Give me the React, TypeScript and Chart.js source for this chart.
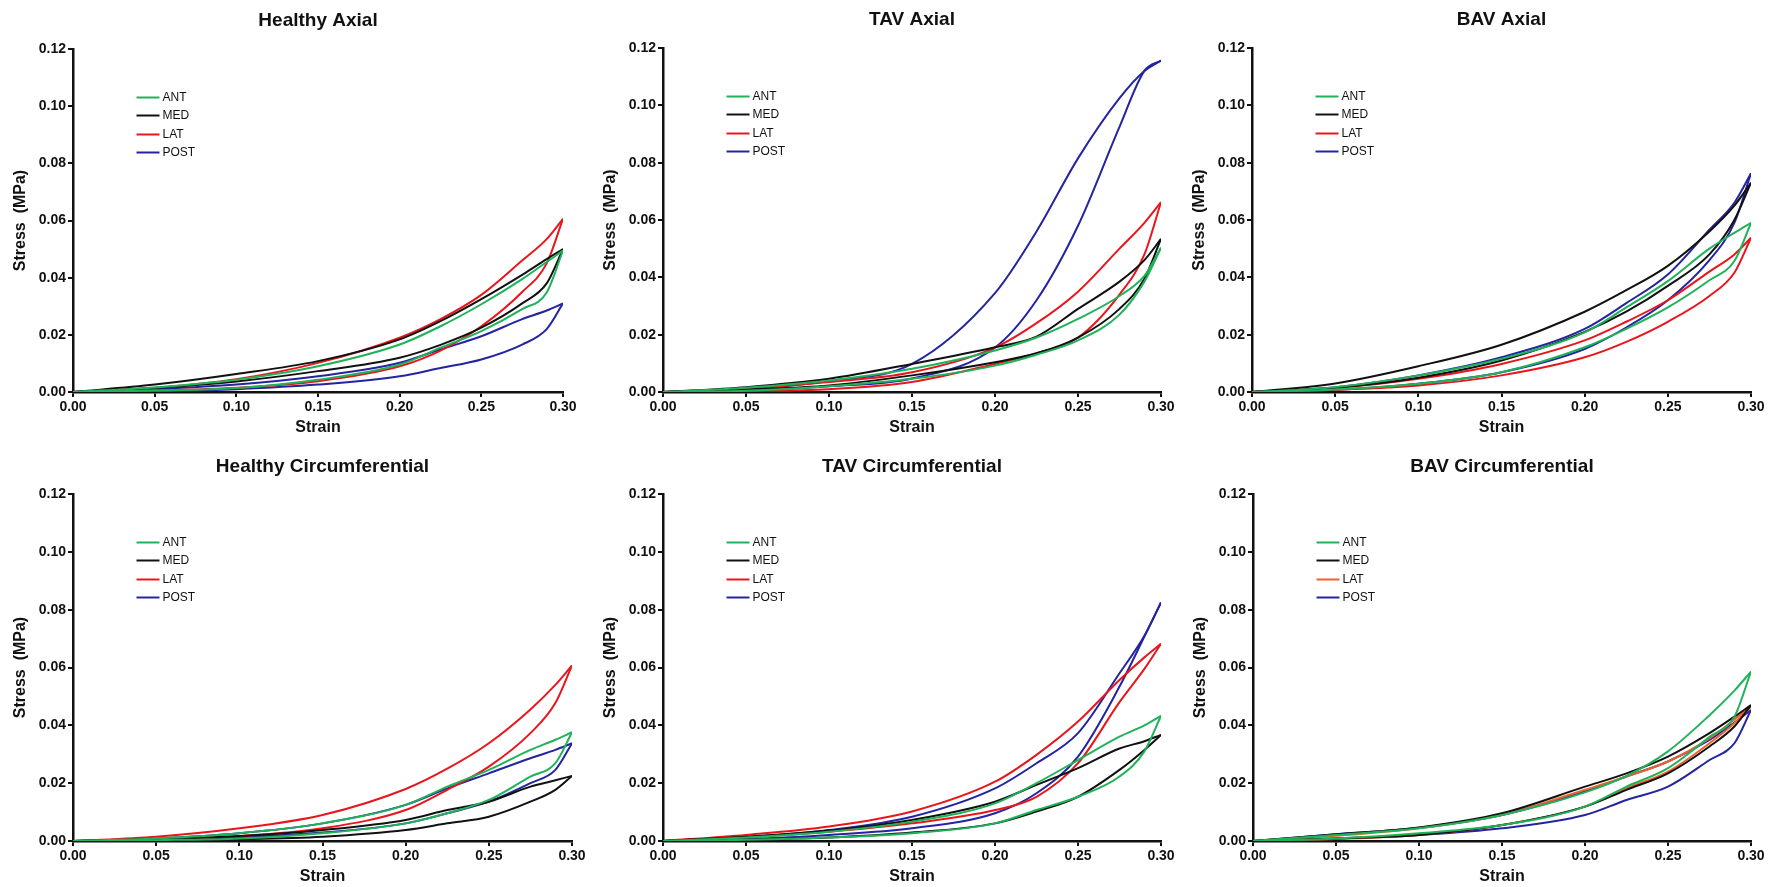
import React, { useEffect, useRef } from "react";
import { Chart, registerables } from "chart.js";

Chart.register(...registerables);
Chart.defaults.font.family = '"Liberation Sans", Arial, Helvetica, sans-serif';

// ---------- data ----------
const STRAIN = [0, 0.05, 0.1, 0.15, 0.2, 0.225, 0.25, 0.275, 0.29, 0.3];
const X_TICK_VALUES = [0, 0.05, 0.1, 0.15, 0.2, 0.25, 0.3];
const Y_TICK_VALUES = [0, 0.02, 0.04, 0.06, 0.08, 0.1, 0.12];
const REGIONS = ["ANT", "MED", "LAT", "POST"];
const TITLES = [
  "Healthy Axial",
  "TAV Axial",
  "BAV Axial",
  "Healthy Circumferential",
  "TAV Circumferential",
  "BAV Circumferential",
];

// Healthy Axial
const haAntLoad = [0, 0.0016, 0.0043, 0.009, 0.0166, 0.023, 0.0307, 0.0395, 0.0455, 0.0495];
const haAntUnload = [0, 0.0005, 0.0014, 0.0043, 0.0096, 0.0155, 0.0213, 0.029, 0.0348, 0.0495];
const haMedLoad = [0, 0.0026, 0.0063, 0.0108, 0.0184, 0.0248, 0.0325, 0.041, 0.0465, 0.05];
const haMedUnload = [0, 0.0014, 0.0037, 0.0073, 0.012, 0.0165, 0.0225, 0.031, 0.038, 0.05];
const haLatLoad = [0, 0.0015, 0.0045, 0.0102, 0.019, 0.0255, 0.034, 0.046, 0.0535, 0.0606];
const haLatUnload = [0, 0.0005, 0.0015, 0.0038, 0.009, 0.0145, 0.023, 0.035, 0.045, 0.0606];
const haPostLoad = [0, 0.001, 0.0026, 0.0055, 0.0102, 0.0149, 0.0195, 0.0255, 0.0285, 0.031];
const haPostUnload = [0, 0.0002, 0.001, 0.0026, 0.0055, 0.0084, 0.0114, 0.0166, 0.022, 0.031];

// TAV Axial
const taAntLoad = [0, 0.0015, 0.004, 0.0081, 0.0145, 0.019, 0.0255, 0.0335, 0.0405, 0.0503];
const taAntUnload = [0, 0.0004, 0.002, 0.0046, 0.0092, 0.013, 0.018, 0.027, 0.0385, 0.0503];
const taMedLoad = [0, 0.0017, 0.0046, 0.0098, 0.0156, 0.0193, 0.029, 0.0385, 0.046, 0.0534];
const taMedUnload = [0, 0.0009, 0.0023, 0.0058, 0.0104, 0.0135, 0.019, 0.029, 0.0395, 0.0534];
const taLatLoad = [0, 0.0012, 0.0035, 0.0069, 0.0155, 0.024, 0.035, 0.05, 0.059, 0.0662];
const taLatUnload = [0, 0.0003, 0.001, 0.0035, 0.0098, 0.0135, 0.019, 0.034, 0.048, 0.0662];
const taPostLoad = [0, 0.001, 0.0038, 0.0098, 0.0345, 0.056, 0.0815, 0.1025, 0.112, 0.1156];
const taPostUnload = [0, 0.0005, 0.002, 0.0047, 0.0155, 0.032, 0.058, 0.0925, 0.112, 0.1156];

// BAV Axial
const baAntLoad = [0, 0.0017, 0.0058, 0.0116, 0.0208, 0.0295, 0.0387, 0.05, 0.0555, 0.059];
const baAntUnload = [0, 0.0009, 0.0029, 0.0069, 0.0156, 0.022, 0.0295, 0.039, 0.0457, 0.059];
const baMedLoad = [0, 0.003, 0.009, 0.0165, 0.028, 0.0355, 0.044, 0.056, 0.065, 0.073];
const baMedUnload = [0, 0.0015, 0.005, 0.011, 0.021, 0.028, 0.037, 0.048, 0.06, 0.073];
const baLatLoad = [0, 0.0014, 0.0046, 0.0098, 0.018, 0.0245, 0.032, 0.042, 0.048, 0.0538];
const baLatUnload = [0, 0.0008, 0.0023, 0.0058, 0.0121, 0.0175, 0.0245, 0.0335, 0.0416, 0.0538];
const baPostLoad = [0, 0.0017, 0.0058, 0.0121, 0.022, 0.031, 0.041, 0.0566, 0.066, 0.0763];
const baPostUnload = [0, 0.0008, 0.0029, 0.0069, 0.015, 0.0225, 0.032, 0.046, 0.059, 0.0763];

// Healthy Circumferential
const hcAntLoad = [0, 0.0009, 0.0027, 0.0061, 0.0125, 0.0188, 0.0246, 0.0315, 0.035, 0.0376];
const hcAntUnload = [0, 0.0003, 0.0009, 0.0027, 0.0061, 0.0096, 0.0142, 0.0223, 0.0269, 0.0376];
const hcMedLoad = [0, 0.0006, 0.0017, 0.0038, 0.0073, 0.0107, 0.0136, 0.0188, 0.021, 0.0225];
const hcMedUnload = [0, 0.0002, 0.0006, 0.0015, 0.0038, 0.0061, 0.0084, 0.0136, 0.0177, 0.0225];
const hcLatLoad = [0, 0.0015, 0.0044, 0.009, 0.018, 0.025, 0.0338, 0.0455, 0.054, 0.0607];
const hcLatUnload = [0, 0.0006, 0.0017, 0.0044, 0.0107, 0.0177, 0.0257, 0.0373, 0.0477, 0.0607];
const hcPostLoad = [0, 0.0009, 0.0027, 0.0061, 0.0125, 0.0182, 0.0234, 0.0286, 0.0315, 0.0338];
const hcPostUnload = [0, 0.0004, 0.0013, 0.0029, 0.0061, 0.0096, 0.0136, 0.02, 0.0246, 0.0338];

// TAV Circumferential
const tcAntLoad = [0, 0.0012, 0.0032, 0.0067, 0.013, 0.02, 0.028, 0.0361, 0.04, 0.0433];
const tcAntUnload = [0, 0.0004, 0.0012, 0.0027, 0.0061, 0.0107, 0.0153, 0.0223, 0.031, 0.0433];
const tcMedLoad = [0, 0.0015, 0.0036, 0.0073, 0.0136, 0.0194, 0.0252, 0.032, 0.0345, 0.0367];
const tcMedUnload = [0, 0.0005, 0.0012, 0.0029, 0.0061, 0.0102, 0.0153, 0.0246, 0.0315, 0.0367];
const tcLatLoad = [0, 0.0021, 0.005, 0.0102, 0.0205, 0.0298, 0.0413, 0.0557, 0.0635, 0.0682];
const tcLatUnload = [0, 0.0013, 0.0032, 0.0061, 0.0107, 0.0153, 0.0269, 0.048, 0.0595, 0.0682];
const tcPostLoad = [0, 0.0013, 0.0038, 0.0084, 0.0182, 0.0269, 0.0373, 0.058, 0.071, 0.0825];
const tcPostUnload = [0, 0.0007, 0.0021, 0.0044, 0.0096, 0.0165, 0.0292, 0.0534, 0.0707, 0.0825];

// BAV Circumferential
const bcAntLoad = [0, 0.0021, 0.0044, 0.009, 0.0168, 0.0225, 0.031, 0.0435, 0.052, 0.0586];
const bcAntUnload = [0, 0.0009, 0.0027, 0.0055, 0.0119, 0.0188, 0.0252, 0.036, 0.043, 0.0586];
const bcMedLoad = [0, 0.0023, 0.0047, 0.0096, 0.0188, 0.0234, 0.0292, 0.0373, 0.043, 0.047];
const bcMedUnload = [0, 0.0009, 0.0021, 0.0055, 0.0119, 0.0177, 0.0234, 0.0327, 0.0396, 0.047];
const bcLatLoad = [0, 0.0018, 0.0044, 0.009, 0.0177, 0.0223, 0.0275, 0.0355, 0.042, 0.0465];
const bcLatUnload = [0, 0.0007, 0.0021, 0.0055, 0.0119, 0.0182, 0.024, 0.0338, 0.0407, 0.0465];
const bcPostLoad = [0, 0.0023, 0.0046, 0.009, 0.0171, 0.0223, 0.0275, 0.035, 0.041, 0.0453];
const bcPostUnload = [0, 0.0009, 0.0021, 0.0044, 0.009, 0.0142, 0.0188, 0.028, 0.0338, 0.0453];

// ---------- styling ----------
const GREEN = "#1fb25a";
const BLACK = "#111111";
const RED = "#e8161c";
const ORANGE = "#f0602a";
const BLUE = "#2424a0";

type Series = { label: string; color: string; load: number[]; unload: number[] };
type Area = { l: number; t: number; r: number; b: number };
type PanelSpec = { title: string; series: Series[]; area: Area; titlePad: { top: number; bottom: number } };

const mk = (colors: string[], data: number[][][]): Series[] =>
  REGIONS.map((label, i) => ({ label, color: colors[i], load: data[i][0], unload: data[i][1] }));

const STD = [GREEN, BLACK, RED, BLUE];
const BAVC = [GREEN, BLACK, ORANGE, BLUE];

const TOP_PAD = { top: 8, bottom: 17.2 };
const BOT_PAD = { top: 9.3, bottom: 15.9 };

const PANELS: PanelSpec[] = [
  {
    title: TITLES[0],
    series: mk(STD, [[haAntLoad, haAntUnload], [haMedLoad, haMedUnload], [haLatLoad, haLatUnload], [haPostLoad, haPostUnload]]),
    area: { l: 73, t: 49, r: 563, b: 392 },
    titlePad: TOP_PAD,
  },
  {
    title: TITLES[1],
    series: mk(STD, [[taAntLoad, taAntUnload], [taMedLoad, taMedUnload], [taLatLoad, taLatUnload], [taPostLoad, taPostUnload]]),
    area: { l: 663, t: 48, r: 1161, b: 392 },
    titlePad: TOP_PAD,
  },
  {
    title: TITLES[2],
    series: mk(STD, [[baAntLoad, baAntUnload], [baMedLoad, baMedUnload], [baLatLoad, baLatUnload], [baPostLoad, baPostUnload]]),
    area: { l: 1252, t: 48, r: 1751, b: 392 },
    titlePad: TOP_PAD,
  },
  {
    title: TITLES[3],
    series: mk(STD, [[hcAntLoad, hcAntUnload], [hcMedLoad, hcMedUnload], [hcLatLoad, hcLatUnload], [hcPostLoad, hcPostUnload]]),
    area: { l: 73, t: 494, r: 572, b: 841 },
    titlePad: BOT_PAD,
  },
  {
    title: TITLES[4],
    series: mk(STD, [[tcAntLoad, tcAntUnload], [tcMedLoad, tcMedUnload], [tcLatLoad, tcLatUnload], [tcPostLoad, tcPostUnload]]),
    area: { l: 663, t: 494, r: 1161, b: 841 },
    titlePad: BOT_PAD,
  },
  {
    title: TITLES[5],
    series: mk(BAVC, [[bcAntLoad, bcAntUnload], [bcMedLoad, bcMedUnload], [bcLatLoad, bcLatUnload], [bcPostLoad, bcPostUnload]]),
    area: { l: 1253, t: 494, r: 1751, b: 841 },
    titlePad: BOT_PAD,
  },
];

const Y_AXIS_W = 70;
const X_AXIS_H = 48;
const RIGHT_PAD = 25;

const legendPlugin = {
  id: "panelLegend",
  afterDatasetsDraw(chart: any) {
    const { ctx, chartArea } = chart;
    const items = chart.data.datasets.filter((d: any) => d.isLegend);
    ctx.save();
    items.forEach((d: any, i: number) => {
      const y = Math.round(chartArea.top + 47.7 + i * 18.5) + 0.5;
      const x0 = chartArea.left + 63.5;
      ctx.strokeStyle = d.borderColor;
      ctx.lineWidth = 2;
      ctx.beginPath();
      ctx.moveTo(x0, y);
      ctx.lineTo(x0 + 23, y);
      ctx.stroke();
      ctx.fillStyle = "#111";
      ctx.font = '12px "Liberation Sans", Arial, sans-serif';
      ctx.textBaseline = "middle";
      ctx.textAlign = "left";
      ctx.fillText(d.label, x0 + 26, y + 0.5);
    });
    ctx.restore();
  },
};

function Panel({ spec }: { spec: PanelSpec }) {
  const ref = useRef<HTMLCanvasElement>(null);
  const { area } = spec;
  const W = Y_AXIS_W + (area.r - area.l) + RIGHT_PAD;
  const H = X_AXIS_H + (area.b - area.t) + X_AXIS_H;

  useEffect(() => {
    const canvas = ref.current;
    if (!canvas) return;
    const datasets: any[] = [];
    spec.series.forEach((s) => {
      datasets.push({
        label: s.label,
        isLegend: true,
        data: STRAIN.map((x, i) => ({ x, y: s.load[i] })),
        borderColor: s.color,
        backgroundColor: s.color,
        borderWidth: 2,
        pointRadius: 0,
        showLine: true,
        fill: false,
        cubicInterpolationMode: "monotone",
      });
      datasets.push({
        label: s.label + " unloading",
        isLegend: false,
        data: STRAIN.map((x, i) => ({ x, y: s.unload[i] })),
        borderColor: s.color,
        backgroundColor: s.color,
        borderWidth: 2,
        pointRadius: 0,
        showLine: true,
        fill: false,
        cubicInterpolationMode: "monotone",
      });
    });

    const tickFont = { size: 14, weight: "bold" as const };
    const chart = new Chart(canvas, {
      type: "scatter",
      data: { datasets },
      plugins: [legendPlugin],
      options: {
        animation: false,
        responsive: false,
        devicePixelRatio: 1,
        events: [],
        layout: { padding: { left: 0, right: RIGHT_PAD, top: 0, bottom: 0 } },
        plugins: {
          legend: { display: false },
          tooltip: { enabled: false },
          title: {
            display: true,
            text: spec.title,
            fullSize: false,
            color: "#111",
            font: { size: 19, weight: "bold", lineHeight: 1.2 },
            padding: spec.titlePad,
          },
        },
        scales: {
          x: {
            type: "linear",
            min: 0,
            max: 0.3,
            afterBuildTicks: (s: any) => {
              s.ticks = X_TICK_VALUES.map((v) => ({ value: v }));
            },
            afterFit: (s: any) => {
              s.height = X_AXIS_H;
            },
            ticks: {
              color: "#111",
              font: tickFont,
              padding: 2,
              maxRotation: 0,
              autoSkip: false,
              callback: (v: any) => Number(v).toFixed(2),
            },
            grid: { drawOnChartArea: false, drawTicks: true, tickLength: 5, color: "#111", lineWidth: 2 },
            border: { display: true, color: "#111", width: 2.5 },
            title: {
              display: true,
              text: "Strain",
              color: "#111",
              font: { size: 16, weight: "bold", lineHeight: 1.2 },
              padding: { top: 0, bottom: 3 },
            },
          },
          y: {
            type: "linear",
            min: 0,
            max: 0.12,
            afterBuildTicks: (s: any) => {
              s.ticks = Y_TICK_VALUES.map((v) => ({ value: v }));
            },
            afterFit: (s: any) => {
              s.width = Y_AXIS_W;
            },
            ticks: {
              color: "#111",
              font: tickFont,
              padding: 2,
              autoSkip: false,
              callback: (v: any) => Number(v).toFixed(2),
            },
            grid: { drawOnChartArea: false, drawTicks: true, tickLength: 5, color: "#111", lineWidth: 2 },
            border: { display: true, color: "#111", width: 2.5 },
            title: {
              display: true,
              text: "Stress  (MPa)",
              color: "#111",
              font: { size: 16, weight: "bold", lineHeight: 1.2 },
              padding: { top: 8.4, bottom: 0 },
            },
          },
        },
      } as any,
    });
    return () => chart.destroy();
  }, [spec]);

  return (
    <canvas
      ref={ref}
      width={W}
      height={H}
      style={{
        position: "absolute",
        left: area.l - Y_AXIS_W,
        top: area.t - X_AXIS_H,
        width: W,
        height: H,
      }}
    />
  );
}

export default function App() {
  return (
    <div
      style={{
        position: "absolute",
        left: 0,
        top: 0,
        width: 1781,
        height: 887,
        overflow: "hidden",
        background: "#fff",
      }}
    >
      {PANELS.map((p) => (
        <Panel key={p.title} spec={p} />
      ))}
    </div>
  );
}
